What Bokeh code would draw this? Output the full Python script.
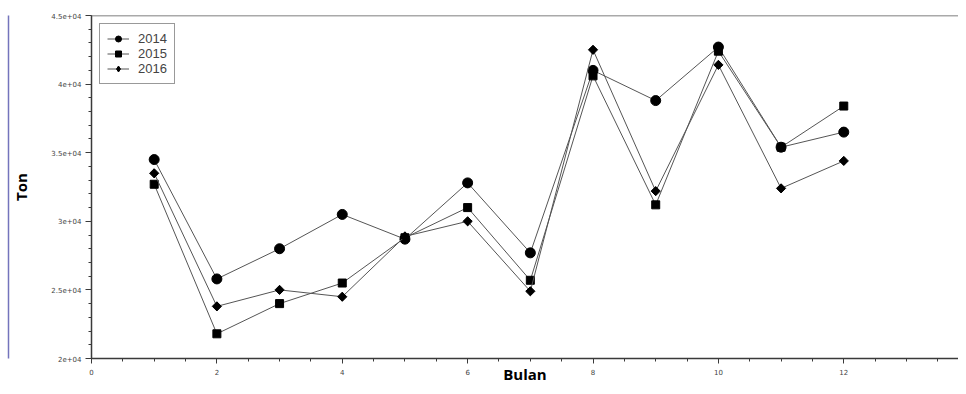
import math
from bokeh.plotting import figure
from bokeh.models import (Range1d, FixedTicker, Legend, LegendItem, Span, LinearAxis)
from bokeh.embed import file_html
from bokeh.resources import INLINE

months = [1, 2, 3, 4, 5, 6, 7, 8, 9, 10, 11, 12]
y2014 = [34500, 25800, 28000, 30500, 28700, 32800, 27700, 41000, 38800, 42700, 35400, 36500]
y2015 = [32700, 21800, 24000, 25500, 28800, 31000, 25700, 40600, 31200, 42400, 35400, 38400]
y2016 = [33500, 23800, 25000, 24500, 28900, 30000, 24900, 42500, 32200, 41400, 32400, 34400]
series_names = ["2014", "2015", "2016"]
x_ticks = [0, 2, 4, 6, 8, 10, 12, 14]
y_ticks = [20000, 25000, 30000, 35000, 40000, 45000]
y_tick_labels = ["2e+04", "2.5e+04", "3e+04", "3.5e+04", "4e+04", "4.5e+04"]

W, H = 958, 386
p = figure(width=W, height=H, output_backend="svg", toolbar_location=None,
           x_range=Range1d(0, 13.83), y_range=Range1d(20000, 45000),
           min_border_left=91, min_border_right=0, min_border_top=15,
           min_border_bottom=28)
p.grid.visible = False
p.outline_line_color = None
p.background_fill_color = "white"
p.border_fill_color = "white"

axis_col = "#3a3a3a"
tick_font = "DejaVu Sans"

xa = p.xaxis[0]
xa.ticker = FixedTicker(ticks=x_ticks, minor_ticks=[i * 0.5 for i in range(0, 29)])
xa.major_tick_out = 5
xa.major_tick_in = 0
xa.minor_tick_out = 3
xa.minor_tick_in = 0
xa.major_label_standoff = 5
xa.major_label_text_font = tick_font
xa.major_label_text_font_size = "7px"
xa.major_label_text_color = "#444444"
xa.axis_line_color = axis_col
xa.axis_line_width = 1.5
xa.major_tick_line_color = axis_col
xa.minor_tick_line_color = axis_col
xa.axis_label = "Bulan"
xa.axis_label_text_font = "Open Sans"
xa.axis_label_text_font_style = "bold"
xa.axis_label_text_font_size = "15px"
xa.axis_label_text_color = "black"
xa.axis_label_standoff = -14

ya = p.yaxis[0]
ya.ticker = FixedTicker(ticks=y_ticks, minor_ticks=list(range(20000, 45001, 1000)))
ya.major_label_overrides = {t: l for t, l in zip(y_ticks, y_tick_labels)}
ya.major_tick_out = 6
ya.major_tick_in = 0
ya.minor_tick_out = 3
ya.minor_tick_in = 0
ya.major_label_standoff = 4
ya.major_label_text_font = tick_font
ya.major_label_text_font_size = "7px"
ya.major_label_text_color = "#444444"
ya.axis_line_color = axis_col
ya.axis_line_width = 1.5
ya.major_tick_line_color = axis_col
ya.minor_tick_line_color = axis_col
ya.axis_label = "Ton"
ya.axis_label_text_font = "Open Sans"
ya.axis_label_text_font_style = "bold"
ya.axis_label_text_font_size = "15px"
ya.axis_label_text_color = "black"
ya.axis_label_standoff = 17

# outer decorative frame line on the left (blue)
outer = LinearAxis(ticker=FixedTicker(ticks=[]), major_tick_out=0, minor_tick_out=0,
                   major_tick_in=0, minor_tick_in=0, major_label_standoff=0,
                   axis_line_color="#7474bc", axis_line_width=1.5)
p.add_layout(outer, "left")

top_line = Span(location=45000, dimension="width", line_color="#555555",
                line_width=1.5)
p.add_layout(top_line)

line_col = "#555555"
items = []

r1 = p.line(months, y2014, line_color=line_col, line_width=1)
r2 = p.scatter(months, y2014, marker="circle", size=10, fill_color="black",
               line_color="black")
items.append(LegendItem(label=series_names[0], renderers=[r1, r2]))

r1 = p.line(months, y2015, line_color=line_col, line_width=1)
r2 = p.scatter(months, y2015, marker="square", size=8, fill_color="black",
               line_color="black")
items.append(LegendItem(label=series_names[1], renderers=[r1, r2]))

r1 = p.line(months, y2016, line_color=line_col, line_width=1)
r2 = p.scatter(months, y2016, marker="diamond", size=8, fill_color="black",
               line_color="black")
p.scatter(months, y2016, marker="square", size=6.5, angle=math.pi / 4,
          fill_color="black", line_color="black")
items.append(LegendItem(label=series_names[2], renderers=[r1, r2]))

legend = Legend(items=items, location="top_left", margin=8, padding=7,
                spacing=0, label_height=15, glyph_width=22, glyph_height=15,
                label_text_font="Liberation Sans", label_text_font_size="13px",
                label_standoff=9, border_line_color="#333333",
                border_line_width=1, background_fill_alpha=1)
p.add_layout(legend)

open("out.html", "w").write(file_html(p, INLINE))
